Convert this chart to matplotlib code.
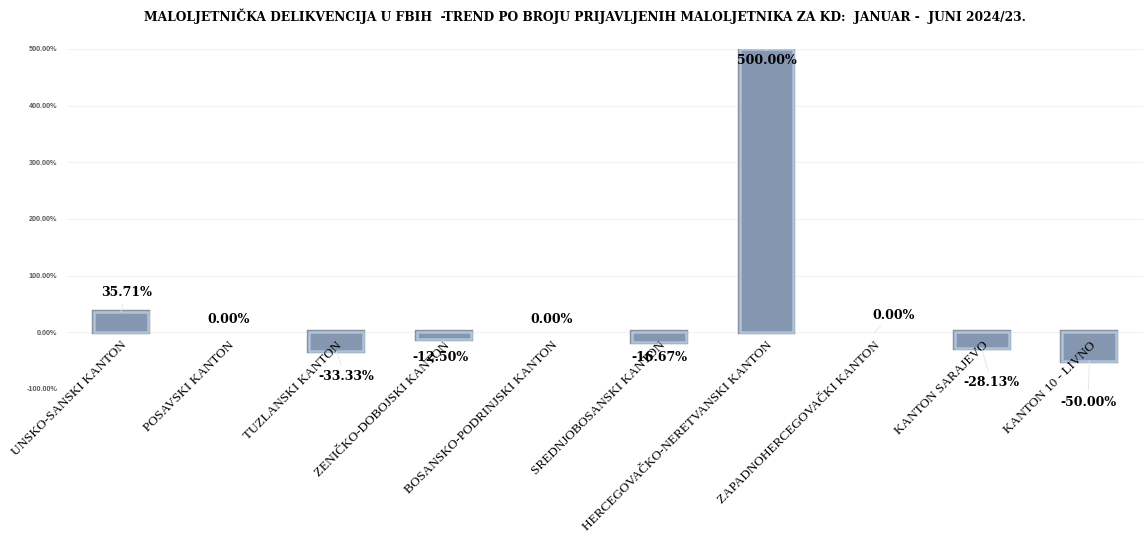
import matplotlib.pyplot as plt
import numpy as np
from matplotlib.ticker import FuncFormatter

# Trend of reported juveniles per canton, Jan-Jun 2024 vs 2023 (percent change)
cantons = [
    "UNSKO-SANSKI KANTON",
    "POSAVSKI KANTON",
    "TUZLANSKI KANTON",
    "ZENIČKO-DOBOJSKI KANTON",
    "BOSANSKO-PODRINJSKI KANTON",
    "SREDNJOBOSANSKI KANTON",
    "HERCEGOVAČKO-NERETVANSKI KANTON",
    "ZAPADNOHERCEGOVAČKI KANTON",
    "KANTON SARAJEVO",
    "KANTON 10 - LIVNO",
]
trend = [35.71, 0.00, -33.33, -12.50, 0.00, -16.67, 500.00, 0.00, -28.13, -50.00]
y_ticks = [-100, 0, 100, 200, 300, 400, 500]

# manual placement of the data labels (offset in points from bar end)
label_offsets = [(4, 14), (0, 9), (7, -18), (-2, -13), (0, 9),
                 (0, -11), (0, -8), (14, 12), (7, -25), (-1, -30)]

title = ("MALOLJETNIČKA DELIKVENCIJA U FBIH  -TREND PO BROJU PRIJAVLJENIH "
         "MALOLJETNIKA ZA KD:  JANUAR -  JUNI 2024/23.")


def plot_trend(values, names):
    fig = plt.figure(figsize=(11.46, 5.44), dpi=100)
    ax = fig.add_axes([0.0585, 0.285, 0.939, 0.625])

    x_pos = np.arange(len(names))
    vals = np.array(values) / 100.0

    # bars: dark outer rim, light inner rim, slate fill (no rim on empty bars)
    has_bar = vals != 0
    ax.bar(x_pos, vals, 0.5, color="#8496B0", edgecolor="#8C9098",
           linewidth=np.where(has_bar, 3.2, 0), zorder=2)
    ax.bar(x_pos, vals, 0.5, color="#8496B0", edgecolor="#AFC3DD",
           linewidth=np.where(has_bar, 1.8, 0), zorder=3)

    ax.set_xlim(-0.5, len(names) - 0.5)
    ax.set_ylim(-1.0, 5.0)
    ax.set_yticks(np.array(y_ticks) / 100.0)
    ax.yaxis.set_major_formatter(FuncFormatter(lambda v, p: f"{v * 100:.2f}%"))
    ax.tick_params(axis="y", length=0, pad=7, labelsize=5.2,
                   labelcolor="#595959")
    for lbl in ax.get_yticklabels():
        lbl.set_fontfamily("Liberation Sans")
        lbl.set_fontweight("bold")
    ax.set_xticks([])
    ax.grid(True, axis="y", color="#F2F2F2", linewidth=0.8, zorder=0)
    for s in ax.spines.values():
        s.set_visible(False)

    # category names sit under the zero line, rotated
    for i, name in enumerate(names):
        ax.annotate(name, (i, 0), xytext=(0, -5), textcoords="offset points",
                    rotation=45, rotation_mode="anchor", ha="right", va="top",
                    fontsize=9.5, family="Liberation Serif", color="black",
                    annotation_clip=False)

    # value labels with faint leader lines
    for i, v in enumerate(vals):
        dx, dy = label_offsets[i]
        ax.annotate(f"{values[i]:.2f}%", (i, v), xytext=(dx, dy),
                    textcoords="offset points", ha="center", va="center",
                    fontsize=9, fontweight="bold", family="DejaVu Serif",
                    color="black", zorder=5, annotation_clip=False,
                    arrowprops=dict(arrowstyle="-", color="#E3E3E3", lw=0.6,
                                    shrinkA=2, shrinkB=0))

    fig.text(0.51, 0.97, title, ha="center", va="center", fontsize=8.8,
             fontweight="bold", family="DejaVu Serif", color="black")

    fig.savefig("out.png", dpi=100)


plot_trend(trend, cantons)
